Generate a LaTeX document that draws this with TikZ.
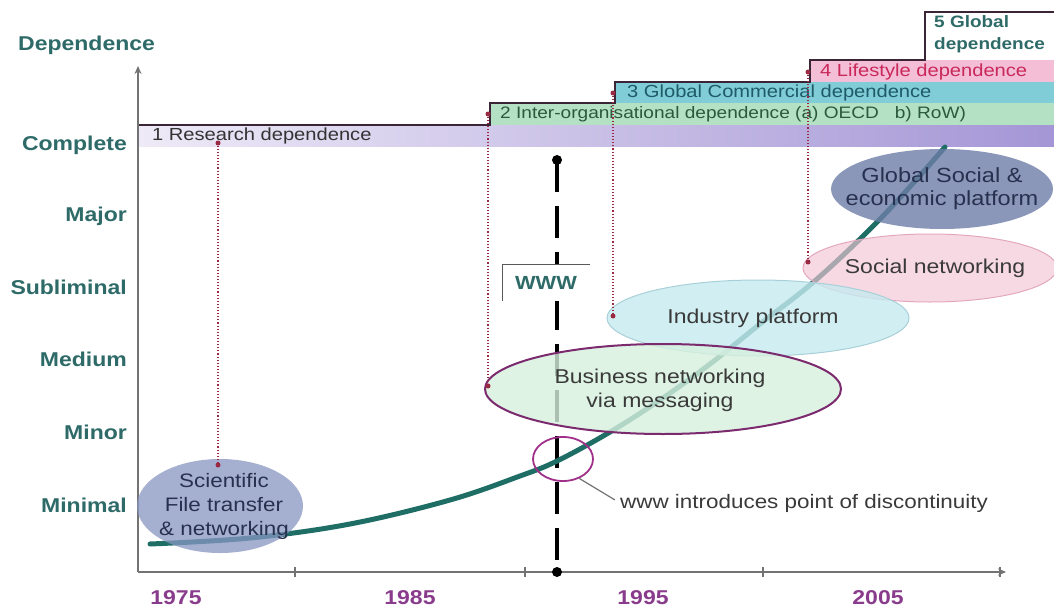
\documentclass[tikz,border=0pt]{standalone}
\usepackage{fontspec}
\setmainfont{Liberation Sans}[FakeStretch=1.15]
\usetikzlibrary{shapes.geometric,arrows.meta}
\definecolor{axlab}{HTML}{2E6B68}
\definecolor{yearc}{HTML}{8A3C8C}
\definecolor{stair}{HTML}{3A2436}
\definecolor{bandAl}{HTML}{EEEAF7}
\definecolor{bandAr}{HTML}{A496D6}
\definecolor{bandB}{HTML}{B4E0C4}
\definecolor{bandC}{HTML}{80CDD8}
\definecolor{bandD}{HTML}{F4BED6}
\definecolor{bandAt}{HTML}{333333}
\definecolor{bandBt}{HTML}{2A5A3C}
\definecolor{bandCt}{HTML}{1F5A68}
\definecolor{bandDt}{HTML}{C8285A}
\definecolor{dotred}{HTML}{9A2A44}
\definecolor{curvec}{HTML}{1F6E66}
\definecolor{scifill}{HTML}{8896C2}
\definecolor{busfill}{HTML}{D6F0DE}
\definecolor{busdraw}{HTML}{7C2A6E}
\definecolor{indfill}{HTML}{C6EAF0}
\definecolor{inddraw}{HTML}{A8D0D8}
\definecolor{socfill}{HTML}{F4C6D6}
\definecolor{socdraw}{HTML}{E4A8BE}
\definecolor{globfill}{HTML}{6E7EA8}
\definecolor{circc}{HTML}{A0308A}
\definecolor{elltext}{HTML}{3A3A3A}
\definecolor{darkblue}{HTML}{27304E}
\begin{document}
\begin{tikzpicture}[x=1pt,y=-1pt,
  ylab/.style={font=\bfseries\fontsize{20}{22}\selectfont, text=axlab, anchor=east, inner sep=0pt},
  year/.style={font=\bfseries\fontsize{20}{22}\selectfont, text=yearc, inner sep=0pt},
  bandtxt/.style={font=\fontsize{17.5}{19}\selectfont, anchor=west, inner sep=0pt},
  ell/.style={ellipse, inner sep=0pt, fill opacity=0.8},
  elltxt/.style={inner sep=0pt, align=center, font=\fontsize{20}{24}\selectfont, text=elltext},
  rdot/.style={circle, fill=dotred, inner sep=0pt, minimum size=5pt},
  dline/.style={dotted, draw=dotred, line width=1.1pt},
  axisline/.style={draw=black!55, line width=1.5pt},
  stairline/.style={draw=stair, line width=2pt},
  ball/.style={circle, fill=black, inner sep=0pt, minimum size=10pt},
  wwwline/.style={draw=black, line width=3.5pt, dash pattern=on 32pt off 14pt},
  curveline/.style={draw=curvec, line width=5pt, line cap=round}
]
\useasboundingbox (0,0) rectangle (1054,610);
\fill[white] (0,0) rectangle (1054,610);

% ---- dependence bands ----
\shade[left color=bandAl, right color=bandAr] (138,125) rectangle (1054,146);
\fill[bandB] (490,103) rectangle (1054,125);
\fill[bandC] (615,82) rectangle (1054,103);
\fill[bandD] (810,60) rectangle (1054,82);
\draw[stairline] (138,125) -- (490,125) -- (490,103) -- (615,103) -- (615,82)
   -- (810,82) -- (810,60) -- (925,60) -- (925,12) -- (1054,12);

\node[bandtxt, text=bandAt] (b1) at (152,136) {1 Research dependence};
\node[bandtxt, text=bandBt, font=\fontsize{16.6}{19}\selectfont] (b2) at (500,114.5) {2 Inter-organisational dependence (a) OECD\ \ \ b) RoW)};
\node[bandtxt, text=bandCt] (b3) at (627,93) {3 Global Commercial dependence};
\node[bandtxt, text=bandDt] (b4) at (820,71.5) {4 Lifestyle dependence};
\node[font=\bfseries\fontsize{16.5}{22}\selectfont, text=axlab, align=left, anchor=north west, inner sep=0pt] (b5) at (934,15) {5 Global\\dependence};

% ---- axes ----
\coordinate (O) at (138,572);
\coordinate (ytop) at (138,66);
\coordinate (xend) at (1006,572);
\draw[axisline, -{Stealth[length=8pt,width=7pt]}] (O) -- (ytop);
\draw[axisline, -{Stealth[length=8pt,width=7pt]}] (O) -- (xend);
\foreach \x in {295,525,763,1000} \draw[axisline, line width=1.2pt] (\x,567) -- (\x,577);

\node[anchor=west, font=\bfseries\fontsize{20}{22}\selectfont, text=axlab, inner sep=0pt] (ydep) at (18,45) {Dependence};
\node[ylab] (lcomp) at (127,145) {Complete};
\node[ylab] (lmaj) at (127,216) {Major};
\node[ylab] (lsub) at (127,287) {Subliminal};
\node[ylab] (lmed) at (127,359) {Medium};
\node[ylab] (lmin) at (127,432) {Minor};
\node[ylab] (lminl) at (127,505) {Minimal};

\node[year] (y75) at (176,598) {1975};
\node[year] (y85) at (410,598) {1985};
\node[year] (y95) at (643,598) {1995};
\node[year] (y05) at (878,598) {2005};

% ---- WWW line ----
\node[ball] (wt) at (557,160) {};
\node[ball] (wb) at (557,572) {};
\draw[wwwline] (wt.center) -- (wb.center);

% ---- growth curve ----
\draw[curveline] plot[smooth, tension=0.6] coordinates
  {(150,544) (250,538) (350,524) (450,500) (520,476) (557,461) (610,432)
   (660,400) (710,364) (760,324) (817,279) (883,216) (945,147)};

% ---- ellipses ----
\node[ell, fill=scifill, fill opacity=0.75, minimum width=166, minimum height=94] (sci) at (220,506) {};
\node[ell, fill=globfill, fill opacity=0.8, minimum width=222, minimum height=80] (glob) at (942,189) {};
\node[ell, fill=socfill, draw=socdraw, line width=1pt, fill opacity=0.65, minimum width=254, minimum height=68] (soc) at (930,268) {};
\node[ell, fill=indfill, draw=inddraw, line width=1pt, minimum width=302, minimum height=76] (ind) at (758,318) {};
\node[ell, fill=busfill, draw=busdraw, line width=2pt, minimum width=356, minimum height=90] (bus) at (663,389) {};

\node[elltxt, text=darkblue, font=\fontsize{19.5}{24}\selectfont] (scit) at (224,506) {Scientific\\File transfer\\\& networking};
\node[elltxt, text=darkblue, font=\fontsize{20.5}{23}\selectfont] (globt) at (942,189) {Global Social \&\\economic platform};
\node[elltxt] (soct) at (935,268) {Social networking};
\node[elltxt] (indt) at (753,318) {Industry platform};
\node[elltxt] (bust) at (660,390) {Business networking\\via messaging};

% ---- WWW label ----
\node[fill=white, minimum width=87, minimum height=36, inner sep=0pt,
      font=\bfseries\fontsize{19}{22}\selectfont, text=axlab] (www) at (546,283) {WWW};
\draw[draw=black!65, line width=1.2pt] (www.south west) -- (www.north west) -- (www.north east);

% ---- discontinuity marker ----
\node[ellipse, draw=circc, line width=1.8pt, minimum width=60, minimum height=44, inner sep=0pt] (disc) at (563,459) {};
\node[anchor=west, font=\fontsize{19.5}{22}\selectfont, text=elltext, inner sep=0pt] (disctxt) at (620,503)
  {www introduces point of discontinuity};
\draw[draw=black!55, line width=1.2pt, shorten >=6pt] (disc.-50) -- (disctxt.west);

% ---- dotted drop lines ----
\node[rdot] (d1a) at (218,143) {};
\node[rdot] (d1b) at (218,465) {};
\node[rdot] (d2a) at (488,114) {};
\node[rdot] (d2b) at (488,386) {};
\node[rdot] (d3a) at (613,93) {};
\node[rdot] (d3b) at (613,316) {};
\node[rdot] (d4a) at (808,72) {};
\node[rdot] (d4b) at (808,262) {};
\draw[dline] (d1a) -- (d1b);
\draw[dline] (d2a) -- (d2b);
\draw[dline] (d3a) -- (d3b);
\draw[dline] (d4a) -- (d4b);
\end{tikzpicture}
\end{document}
